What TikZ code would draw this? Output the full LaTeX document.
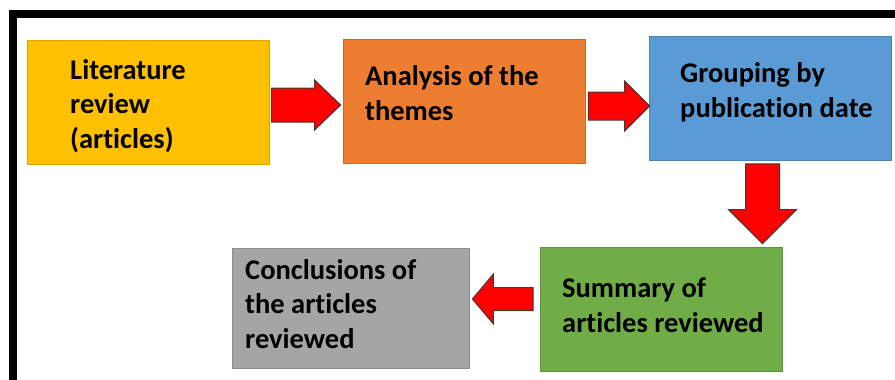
\documentclass[tikz,border=0pt]{standalone}
\usepackage{fontspec}
\setmainfont{Carlito}[Ligatures={NoCommon}]
\usetikzlibrary{calc}
\definecolor{cyel}{HTML}{FFC000}
\definecolor{corg}{HTML}{ED7D31}
\definecolor{cblu}{HTML}{5B9BD5}
\definecolor{cgrn}{HTML}{70AD47}
\definecolor{cgry}{HTML}{A5A5A5}
\definecolor{cred}{HTML}{FF0000}
\definecolor{cout}{HTML}{3A3A3A}
\begin{document}
\begin{tikzpicture}[x=1pt,y=-1pt,
  box/.style={draw=#1!85!black, line width=0.8pt, fill=#1, minimum width=242pt, minimum height=124pt, inner sep=0pt},
  txt/.style={anchor=base west, align=left, inner sep=0pt, font=\bfseries\fontsize{28.5}{34.5}\selectfont},
  blockarrow/.style={fill=cred, draw=cout, line width=1pt, line join=miter}]
\useasboundingbox (0,0) rectangle (895,380);
\fill[white] (0,0) rectangle (895,380);
% frame
\draw[line width=8pt, line cap=butt] (13,380) -- (13,14) -- (895,14);
% boxes
\node[box=cyel] (lit) at (148,102) {};
\node[box=corg] (ana) at (464,101) {};
\node[box=cblu] (grp) at (770,98.5) {};
\node[box=cgrn, minimum height=124pt] (sum) at (661.5,309) {};
\node[box=cgry, minimum width=237pt, minimum height=120pt] (con) at (350.5,308) {};
% texts (anchored at the baseline of the last line)
\node[txt] (litT) at (70,148) {Literature\\review\\(articles)};
\node[txt] (anaT) at (365,120) {Analysis of the\\themes};
\node[txt] (grpT) at (680,117) {Grouping by\\publication date};
\node[txt] (sumT) at (562,332) {Summary of\\articles reviewed};
\node[txt] (conT) at (245,348) {Conclusions of\\the articles\\reviewed};
% arrows
\draw[blockarrow] let \p1=($(lit.east)+(2,3)$), \p2=($(ana.west)+(-2,4)$) in
  (\x1,\y1+17) -- (\x2-26,\y1+17) -- (\x2-26,\y1+25) -- (\x2,\y1) -- (\x2-26,\y1-25) -- (\x2-26,\y1-17) -- (\x1,\y1-17) -- cycle;
\draw[blockarrow] let \p1=($(ana.east)+(3,5)$), \p2=($(grp.west)+(1,0)$) in
  (\x1,\y1+14) -- (\x2-25,\y1+14) -- (\x2-25,\y1+25) -- (\x2,\y1) -- (\x2-25,\y1-25) -- (\x2-25,\y1-14) -- (\x1,\y1-14) -- cycle;
\draw[blockarrow] let \p1=($(grp.south)+(-7,3)$), \p2=($(sum.north)+(101,-3)$) in
  (\x2+17,\y1) -- (\x2+17,\y2+34) -- (\x2+34,\y2+34) -- (\x2,\y2) -- (\x2-34,\y2+34) -- (\x2-17,\y2+34) -- (\x2-17,\y1) -- cycle;
\draw[blockarrow] let \p1=($(sum.west)+(-7,-10)$), \p2=($(con.east)+(3,-10)$) in
  (\x1,\y1+11.5) -- (\x2+21,\y1+11.5) -- (\x2+21,\y1+25) -- (\x2,\y1) -- (\x2+21,\y1-25) -- (\x2+21,\y1-11.5) -- (\x1,\y1-11.5) -- cycle;
\end{tikzpicture}
\end{document}
